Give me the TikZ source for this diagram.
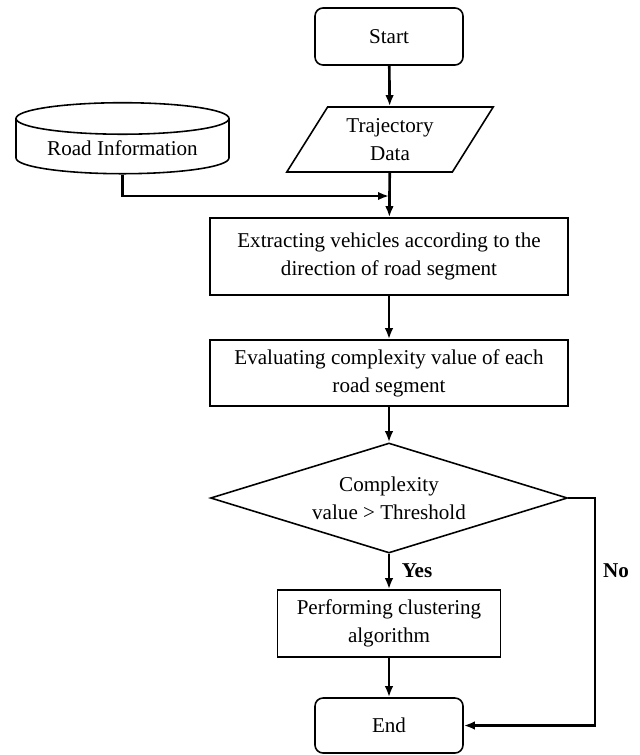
\documentclass[tikz,border=0pt]{standalone}
\usepackage{fontspec}
\setmainfont{Liberation Serif}
\usetikzlibrary{shapes.geometric,arrows.meta}

\begin{document}
\begin{tikzpicture}[
  box/.style={draw, line width=0.9pt, rectangle, align=center, inner sep=2pt, font=\fontsize{12}{16}\selectfont},
  term/.style={box, rounded corners=0.16cm},
  arr/.style={line width=1.5pt, -{Latex[length=0.22cm,width=0.17cm]}},
  lbl/.style={font=\fontsize{12}{14}\selectfont\bfseries},
]%
\useasboundingbox (0,0) rectangle (12.8,-15.1);%
% terminals and data
\node[term, minimum width=2.96cm, minimum height=1.14cm] (start) at (7.78,-0.73) {Start};%
\node[box, trapezium, trapezium left angle=58, trapezium right angle=122, trapezium stretches=true, minimum width=4.16cm, minimum height=1.3cm] (traj) at (7.8,-2.79) {Trajectory\\Data};%
\node[box, cylinder, shape border rotate=90, aspect=0.2, minimum width=4.26cm, minimum height=1.42cm] (road) at (2.45,-2.97) {Road Information};%
% processing steps
\node[box, minimum width=7.16cm, minimum height=1.54cm] (extract) at (7.78,-5.13) {Extracting vehicles according to the\\direction of road segment};%
\node[box, minimum width=7.16cm, minimum height=1.32cm] (evaluate) at (7.78,-7.46) {Evaluating complexity value of each\\road segment};%
\node[box, diamond, inner sep=0pt, aspect=3.25, minimum width=7.14cm, minimum height=2.2cm] (decide) at (7.78,-9.96) {Complexity\\value > Threshold};%
\node[box, minimum width=4.46cm, minimum height=1.34cm] (perform) at (7.78,-12.47) {Performing clustering\\algorithm};%
\node[term, minimum width=2.96cm, minimum height=1.1cm] (end) at (7.78,-14.51) {End};%
\node[lbl] (yes) at (8.34,-11.42) {Yes};%
\node[lbl] (no) at (12.32,-11.42) {No};%
\coordinate (join) at (7.78,-3.92);%
\coordinate (nocorner) at (11.9,-9.96);%
% connectors
\draw[arr] (start) -- (traj);%
\draw[arr] (road.south) |- (join);%
\draw[arr] (traj) -- (extract);%
\draw[arr] (extract) -- (evaluate);%
\draw[arr] (evaluate) -- (decide);%
\draw[arr] (decide) -- (perform);%
\draw[arr] (perform) -- (end);%
\draw[arr] (decide.east) -- (nocorner) |- (end.east);%
\end{tikzpicture}
\end{document}
